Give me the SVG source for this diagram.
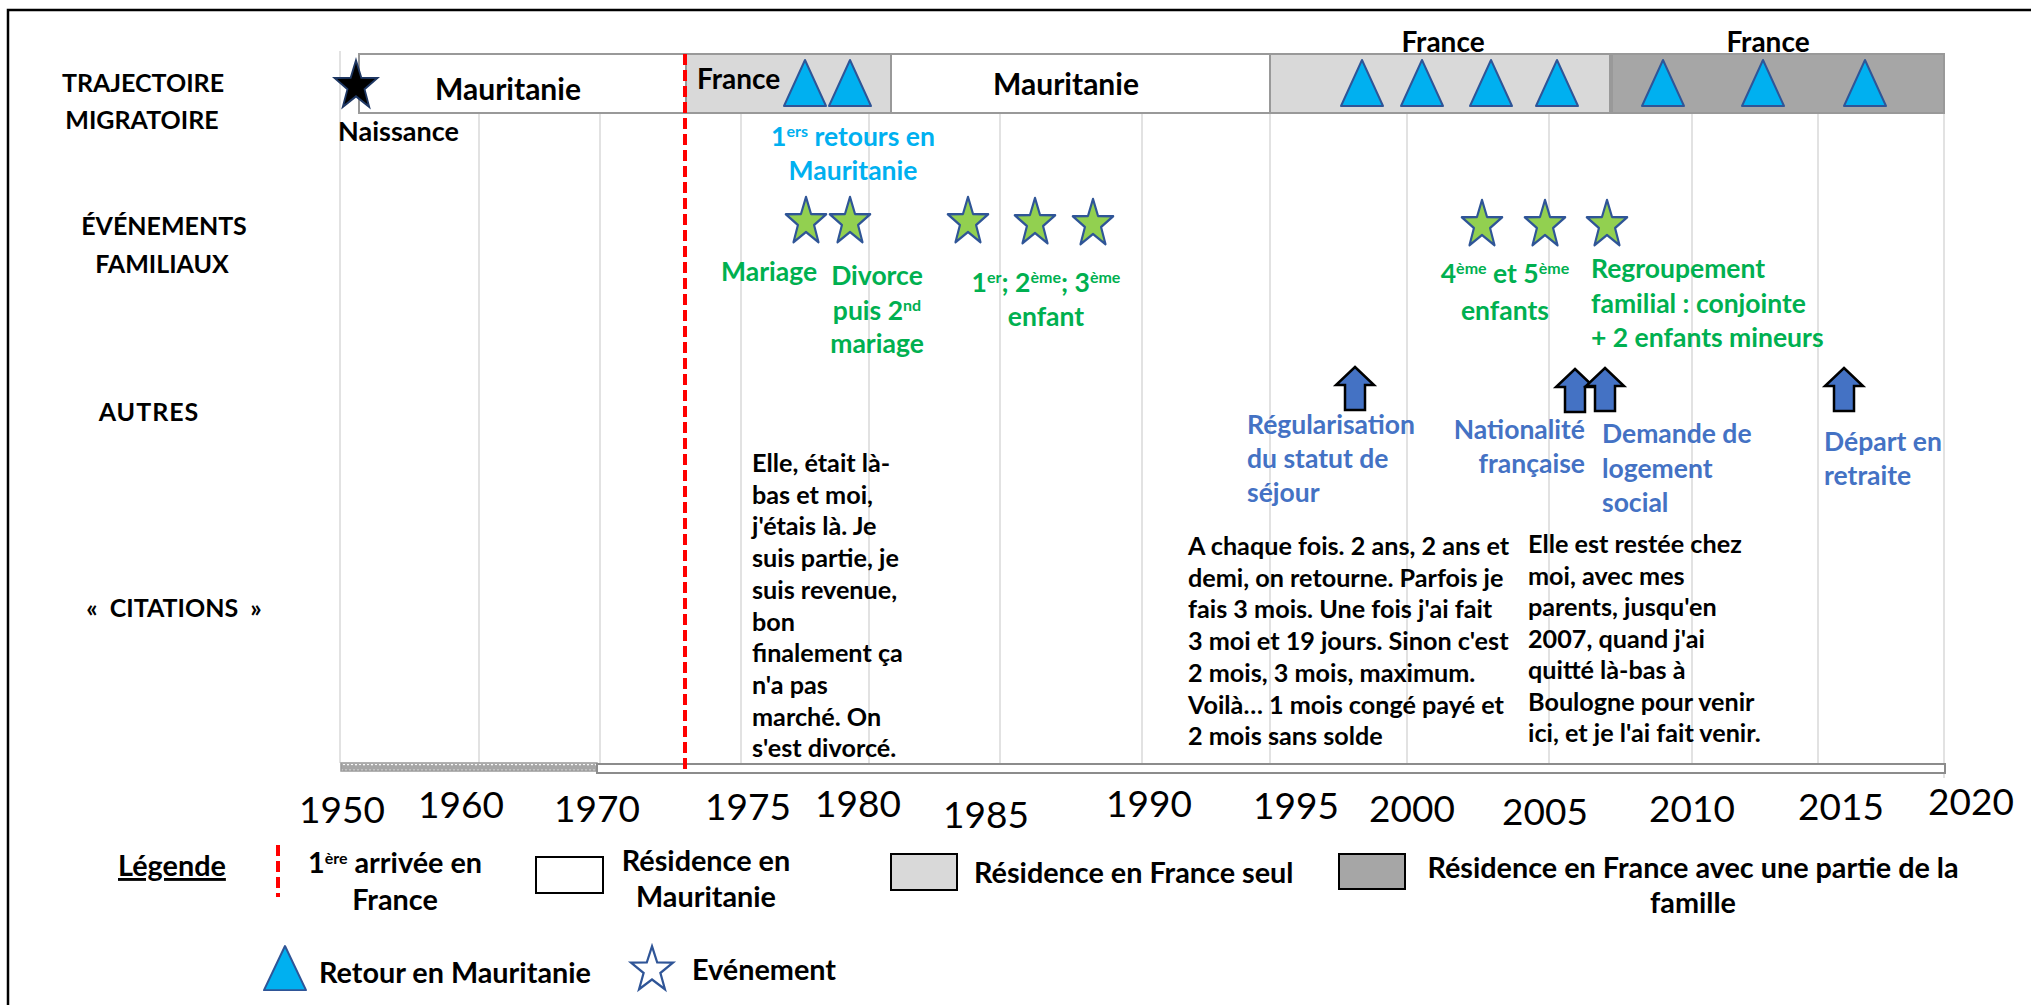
<svg xmlns="http://www.w3.org/2000/svg" width="2031" height="1005" viewBox="0 0 2031 1005">
<style>
text{font-family:Lato,"Liberation Sans",Arial,sans-serif;font-weight:bold}
.lab{font-size:25px;fill:#000;text-anchor:middle}
.bar{font-size:30px;fill:#000}
.yr{font-size:37px;font-weight:normal;fill:#000;text-anchor:middle}
.grn{font-size:26.5px;fill:#00b050}
.lbl{font-size:26.5px;fill:#00b0f0}
.blu{font-size:26.5px;fill:#4472c4}
.cit{font-size:25.2px;fill:#000}
.leg{font-size:28.8px;fill:#000}
.sup{font-size:16px}
.grid{stroke:#d9d9d9;stroke-width:1.5}
.box{stroke:#999;stroke-width:2}
.tri{fill:#00b0f0;stroke:#2f5597;stroke-width:2;stroke-linejoin:round}
.gstar{fill:#92d050;stroke:#2f5597;stroke-width:2.5;stroke-linejoin:round}
.arr{fill:#4472c4;stroke:#000;stroke-width:2.5}
</style>
<defs>
<path id="star" d="M0,-25 L5.88,-8.09 L23.78,-7.73 L9.51,3.09 L14.69,20.23 L0,10 L-14.69,20.23 L-9.51,3.09 L-23.78,-7.73 L-5.88,-8.09 Z"/>
<path id="tri" d="M0,0 L21,46 L-21,46 Z"/>
<path id="arrow" d="M0,0 L19,18 L10,18 L10,43 L-10,43 L-10,18 L-19,18 Z"/>
<pattern id="hatch" width="8" height="8" patternUnits="userSpaceOnUse">
<rect width="8" height="8" fill="#a6a6a6"/>
<path d="M0,5 L2,2 L4,5 L6,2 L8,5" fill="none" stroke="#fff" stroke-width="1.2"/>
</pattern>
</defs>
<rect width="2031" height="1005" fill="#fff"/>
<path d="M8,1005 L8,10 L2031,10" fill="none" stroke="#000" stroke-width="2.5"/>

<g id="connectors">
<line class="grid" x1="340" y1="51" x2="340" y2="763"/>
<line class="grid" x1="479" y1="113" x2="479" y2="763"/>
<line class="grid" x1="600" y1="113" x2="600" y2="763"/>
<line class="grid" x1="741" y1="113" x2="741" y2="763"/>
<line class="grid" x1="869" y1="113" x2="869" y2="763"/>
<line class="grid" x1="1000" y1="113" x2="1000" y2="763"/>
<line class="grid" x1="1142" y1="113" x2="1142" y2="763"/>
<line class="grid" x1="1270" y1="113" x2="1270" y2="763"/>
<line class="grid" x1="1407" y1="113" x2="1407" y2="763"/>
<line class="grid" x1="1549" y1="113" x2="1549" y2="763"/>
<line class="grid" x1="1692" y1="113" x2="1692" y2="763"/>
<line class="grid" x1="1818" y1="113" x2="1818" y2="763"/>
<line class="grid" x1="1944" y1="113" x2="1944" y2="778"/>
</g>

<g id="axis">
<rect x="341" y="763" width="256" height="8" fill="url(#hatch)" stroke="#999" stroke-width="1.5"/>
<rect x="597" y="764" width="1348" height="9" fill="#fff" stroke="#8c8c8c" stroke-width="2"/>
<text class="yr" x="342" y="823">1950</text>
<text class="yr" x="461" y="818">1960</text>
<text class="yr" x="597" y="822">1970</text>
<text class="yr" x="748" y="820">1975</text>
<text class="yr" x="858" y="817">1980</text>
<text class="yr" x="986" y="828">1985</text>
<text class="yr" x="1149" y="817">1990</text>
<text class="yr" x="1296" y="819">1995</text>
<text class="yr" x="1412" y="822">2000</text>
<text class="yr" x="1545" y="825">2005</text>
<text class="yr" x="1692" y="822">2010</text>
<text class="yr" x="1841" y="820">2015</text>
<text class="yr" x="1971" y="815">2020</text>
</g>

<g id="row-labels">
<text class="lab" x="143" y="92">TRAJECTOIRE</text>
<text class="lab" x="142" y="129">MIGRATOIRE</text>
<text class="lab" x="164" y="235">ÉVÉNEMENTS</text>
<text class="lab" x="162" y="273">FAMILIAUX</text>
<text class="lab" x="149" y="421" letter-spacing="1">AUTRES</text>
<text class="lab" x="174" y="617" word-spacing="6">« CITATIONS »</text>
</g>

<g id="trajectoire">
<rect class="box" x="359" y="54" width="327" height="59" fill="#fff"/>
<rect class="box" x="686" y="54" width="205" height="59" fill="#d9d9d9"/>
<rect class="box" x="891" y="54" width="379" height="59" fill="#fff"/>
<rect class="box" x="1270" y="54" width="340" height="59" fill="#d9d9d9"/>
<rect class="box" x="1612" y="54" width="332" height="59" fill="#a6a6a6"/>
<text class="bar" x="508" y="100" text-anchor="middle">Mauritanie</text>
<text class="bar" x="697" y="89" style="font-size:28px">France</text>
<text class="bar" x="1066" y="95" text-anchor="middle">Mauritanie</text>
<text class="bar" x="1443" y="52" text-anchor="middle" style="font-size:28px">France</text>
<text class="bar" x="1768" y="52" text-anchor="middle" style="font-size:28px">France</text>
</g>

<g id="arrivee">
<line x1="685" y1="54" x2="685" y2="771" stroke="#ff0000" stroke-width="4" stroke-dasharray="11 5"/>
</g>

<g id="naissance">
<use href="#star" transform="translate(356,86) scale(0.9,1.03)" fill="#000" stroke="#1f3864" stroke-width="2"/>
<text x="338" y="141" style="font-size:27px;fill:#000">Naissance</text>
</g>

<g id="retours">
<use href="#tri" class="tri" x="805" y="60"/>
<use href="#tri" class="tri" x="850" y="60"/>
<use href="#tri" class="tri" x="1362" y="60"/>
<use href="#tri" class="tri" x="1422" y="60"/>
<use href="#tri" class="tri" x="1491" y="60"/>
<use href="#tri" class="tri" x="1557" y="60"/>
<use href="#tri" class="tri" x="1663" y="60"/>
<use href="#tri" class="tri" x="1763" y="60"/>
<use href="#tri" class="tri" x="1865" y="60"/>
<text class="lbl" x="853" y="146" text-anchor="middle">1<tspan class="sup" baseline-shift="super">ers</tspan> retours en</text>
<text class="lbl" x="853" y="180" text-anchor="middle">Mauritanie</text>
</g>

<g id="evenements">
<use href="#star" class="gstar" transform="translate(806,222) scale(0.85,1)"/>
<use href="#star" class="gstar" transform="translate(850,222) scale(0.85,1)"/>
<use href="#star" class="gstar" transform="translate(968,222) scale(0.85,1)"/>
<use href="#star" class="gstar" transform="translate(1035,223) scale(0.85,1)"/>
<use href="#star" class="gstar" transform="translate(1093,224) scale(0.85,1)"/>
<use href="#star" class="gstar" transform="translate(1482,225) scale(0.85,1)"/>
<use href="#star" class="gstar" transform="translate(1545,225) scale(0.85,1)"/>
<use href="#star" class="gstar" transform="translate(1607,225) scale(0.85,1)"/>
<text class="grn" x="721" y="281">Mariage</text>
<text class="grn" x="877" y="285" text-anchor="middle">Divorce</text>
<text class="grn" x="877" y="320" text-anchor="middle">puis 2<tspan class="sup" baseline-shift="super">nd</tspan></text>
<text class="grn" x="877" y="353" text-anchor="middle">mariage</text>
<text class="grn" x="1046" y="292" text-anchor="middle">1<tspan class="sup" baseline-shift="super">er</tspan>; 2<tspan class="sup" baseline-shift="super">ème</tspan>; 3<tspan class="sup" baseline-shift="super">ème</tspan></text>
<text class="grn" x="1046" y="326" text-anchor="middle">enfant</text>
<text class="grn" x="1505" y="283" text-anchor="middle">4<tspan class="sup" baseline-shift="super">ème</tspan> et 5<tspan class="sup" baseline-shift="super">ème</tspan></text>
<text class="grn" x="1505" y="320" text-anchor="middle">enfants</text>
<text class="grn" x="1591" y="278">Regroupement</text>
<text class="grn" x="1591" y="313">familial : conjointe</text>
<text class="grn" x="1591" y="347">+ 2 enfants mineurs</text>
</g>

<g id="autres">
<use href="#arrow" class="arr" x="1355" y="367"/>
<use href="#arrow" class="arr" x="1575" y="369"/>
<use href="#arrow" class="arr" x="1605" y="368"/>
<use href="#arrow" class="arr" x="1844" y="368"/>
<text class="blu" x="1247" y="434">Régularisation</text>
<text class="blu" x="1247" y="468">du statut de</text>
<text class="blu" x="1247" y="502">séjour</text>
<text class="blu" x="1585" y="439" text-anchor="end">Nationalité</text>
<text class="blu" x="1585" y="473" text-anchor="end">française</text>
<text class="blu" x="1602" y="443">Demande de</text>
<text class="blu" x="1602" y="478">logement</text>
<text class="blu" x="1602" y="512">social</text>
<text class="blu" x="1824" y="451">Départ en</text>
<text class="blu" x="1824" y="485">retraite</text>
</g>

<g id="citation-1">
<text class="cit" x="752" y="472">Elle, était là-</text>
<text class="cit" x="752" y="503.7">bas et moi,</text>
<text class="cit" x="752" y="535.4">j'étais là. Je</text>
<text class="cit" x="752" y="567.1">suis partie, je</text>
<text class="cit" x="752" y="598.8">suis revenue,</text>
<text class="cit" x="752" y="630.5">bon</text>
<text class="cit" x="752" y="662.2">finalement ça</text>
<text class="cit" x="752" y="693.9">n'a pas</text>
<text class="cit" x="752" y="725.6">marché. On</text>
<text class="cit" x="752" y="757.3">s'est divorcé.</text>
</g>

<g id="citation-2">
<text class="cit" x="1188" y="555">A chaque fois. 2 ans, 2 ans et</text>
<text class="cit" x="1188" y="586.7">demi, on retourne. Parfois je</text>
<text class="cit" x="1188" y="618.4">fais 3 mois. Une fois j'ai fait</text>
<text class="cit" x="1188" y="650.1">3 moi et 19 jours. Sinon c'est</text>
<text class="cit" x="1188" y="681.8">2 mois, 3 mois, maximum.</text>
<text class="cit" x="1188" y="713.5">Voilà… 1 mois congé payé et</text>
<text class="cit" x="1188" y="745.2">2 mois sans solde</text>
</g>

<g id="citation-3">
<text class="cit" x="1528" y="553">Elle est restée chez</text>
<text class="cit" x="1528" y="584.5">moi, avec mes</text>
<text class="cit" x="1528" y="616">parents, jusqu'en</text>
<text class="cit" x="1528" y="647.5">2007, quand j'ai</text>
<text class="cit" x="1528" y="679">quitté là-bas à</text>
<text class="cit" x="1528" y="710.5">Boulogne pour venir</text>
<text class="cit" x="1528" y="742">ici, et je l'ai fait venir.</text>
</g>

<g id="legende">
<text class="leg" x="118" y="876" text-decoration="underline">Légende</text>
<line x1="278" y1="845" x2="278" y2="897" stroke="#ff0000" stroke-width="4" stroke-dasharray="11 5"/>
<text class="leg" x="395" y="873" text-anchor="middle">1<tspan class="sup" baseline-shift="super">ère</tspan> arrivée en</text>
<text class="leg" x="395" y="910" text-anchor="middle">France</text>
<rect x="536" y="857" width="67" height="36" fill="#fff" stroke="#000" stroke-width="2"/>
<text class="leg" x="706" y="871" text-anchor="middle">Résidence en</text>
<text class="leg" x="706" y="907" text-anchor="middle">Mauritanie</text>
<rect x="891" y="854" width="66" height="36" fill="#d9d9d9" stroke="#000" stroke-width="2"/>
<text class="leg" x="974" y="883">Résidence en France seul</text>
<rect x="1339" y="854" width="66" height="35" fill="#a6a6a6" stroke="#000" stroke-width="2"/>
<text class="leg" x="1693" y="878" text-anchor="middle">Résidence en France avec une partie de la</text>
<text class="leg" x="1693" y="913" text-anchor="middle">famille</text>
<use href="#tri" class="tri" transform="translate(285,946) scale(1,0.96)"/>
<text class="leg" x="319" y="983">Retour en Mauritanie</text>
<use href="#star" transform="translate(652,970) scale(0.88,0.95)" fill="#fff" stroke="#2f5597" stroke-width="2.5"/>
<text class="leg" x="692" y="980">Evénement</text>
</g>
</svg>
